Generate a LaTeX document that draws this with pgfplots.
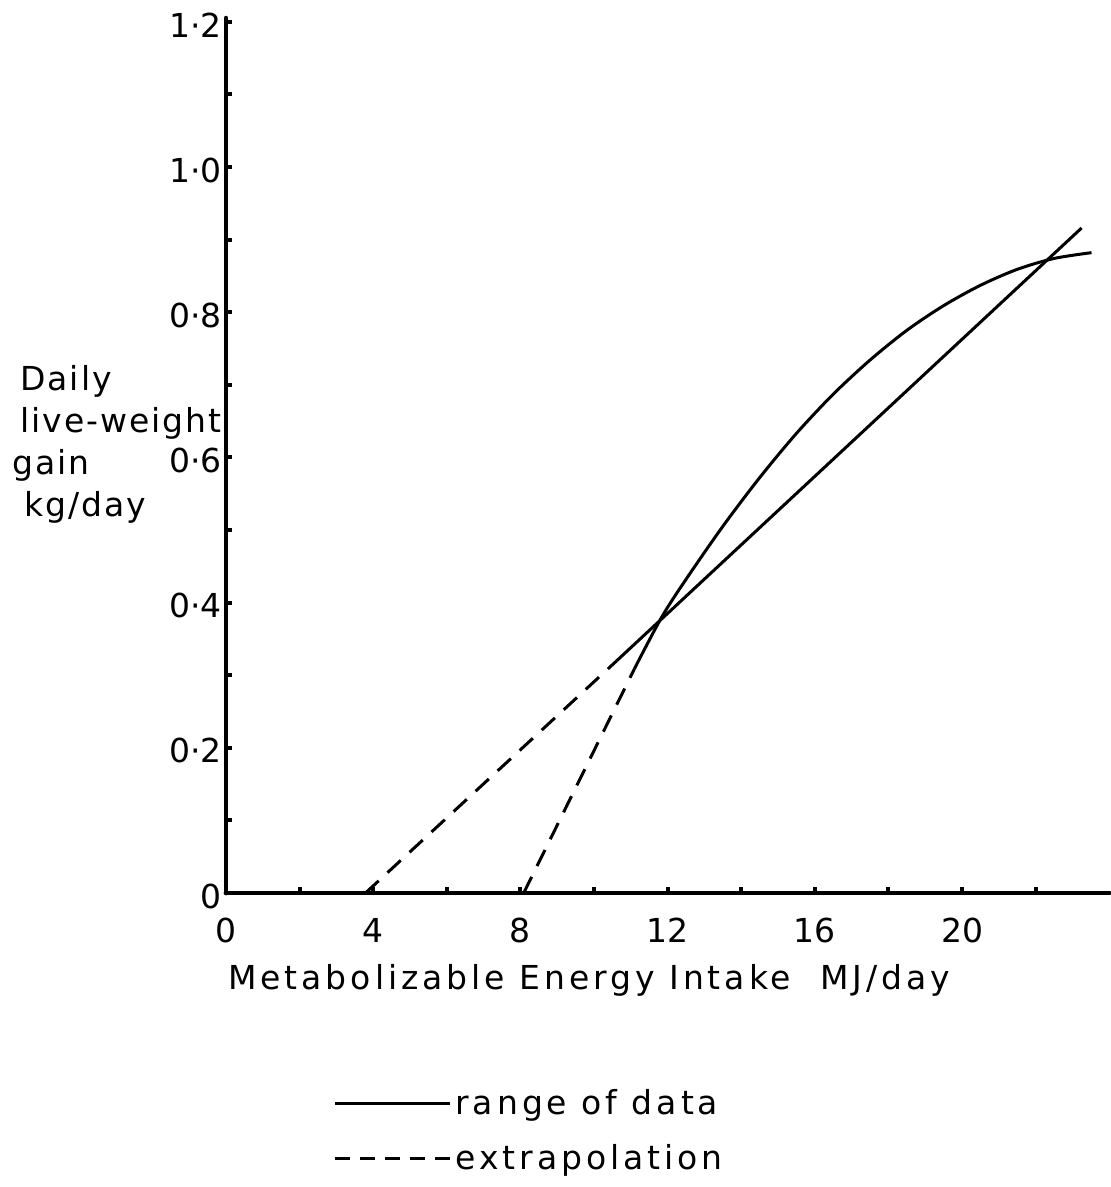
\documentclass[border=0pt]{standalone}
\usepackage{fontspec}
\setmainfont{DejaVu Sans}[LetterSpace=12]
\newfontfamily\numfont{DejaVu Sans}
\newfontfamily\ylabfont{DejaVu Sans}[LetterSpace=6]
\usepackage{pgfplots}
\pgfplotsset{compat=1.18}

\newcommand\lab{\fontsize{16.5}{21}\selectfont}
\newcommand\num{\numfont\fontsize{16.5}{21}\selectfont}
\newcommand\ylab{\ylabfont\fontsize{16.5}{21}\selectfont}

\begin{document}
\begin{tikzpicture}
\useasboundingbox (-113pt,-147pt) rectangle (442pt,446.5pt);
\begin{axis}[
  at={(0pt,0pt)}, anchor=origin,
  x=18.4pt, y=363pt,
  xmin=0, xmax=24, ymin=0, ymax=1.205,
  clip=false,
  axis lines=left,
  axis line style={-, line width=2.4pt, line cap=round},
  tick align=inside,
  major tick length=3pt, minor tick length=3pt,
  every tick/.style={black, line width=2pt},
  xtick={0,4,8,12,16,20},
  xticklabels={0,4,8,12,16,20},
  minor xtick={2,6,10,14,18,22},
  ytick={0,0.2,0.4,0.6,0.8,1.0,1.2},
  yticklabels={0,0·2,0·4,0·6,0·8,1·0,1·2},
  minor ytick={0.1,0.3,0.5,0.7,0.9,1.1},
  tick label style={font=\num},
  xticklabel style={yshift=-9pt},
  yticklabel style={anchor=east, yshift=-1.5pt, xshift=1.5pt},
  xlabel={Metabolizable Energy Intake\ \ MJ/day},
  xlabel style={at={(axis cs:0.05,-0.1336)}, anchor=base west, inner sep=0pt, font=\lab},
  ylabel={\hspace*{4pt}Daily\\\hspace*{4pt}live-weight\\gain\\\hspace*{6pt}kg/day},
  ylabel style={rotate=-90, at={(axis cs:-5.815,0.727)}, anchor=north west,
                align=left, inner sep=0pt, font=\ylab},
  legend image code/.code={\draw[#1] (0pt,0pt) -- (57.5pt,0pt);},
  legend cell align=left,
  legend style={draw=none, fill=none, at={(axis cs:2.91,-0.264)}, anchor=north west,
                inner sep=0pt, row sep=9.5pt, font=\lab,
                nodes={inner sep=2pt}},
]
% legend samples
\addlegendimage{line width=1.5pt}
\addlegendentry{range of data}
\addlegendimage{line width=1.5pt, dash pattern=on 7.5pt off 5pt}
\addlegendentry{extrapolation}

% linear response: extrapolated part, then range of data
\addplot[forget plot, line width=1.5pt, dash pattern=on 9pt off 6pt]
  coordinates {(3.79,0) (10.62,0.320)};
\addplot[forget plot, line width=1.5pt]
  coordinates {(10.62,0.320) (23.25,0.916)};

% curvilinear response: extrapolated part, then range of data
\addplot[forget plot, line width=1.5pt, dash pattern=on 9pt off 6pt]
  coordinates {(8.09,0) (11.10,0.309)};
\addplot[forget plot, line width=1.5pt, smooth]
  coordinates {(11.10,0.309) (11.84,0.380) (12.50,0.432) (13.50,0.505)
               (14.50,0.572) (15.50,0.633) (16.50,0.687) (17.50,0.734)
               (18.50,0.775) (19.50,0.809) (20.50,0.837) (21.50,0.859)
               (22.50,0.874) (23.52,0.882)};
\end{axis}
\end{tikzpicture}
\end{document}
